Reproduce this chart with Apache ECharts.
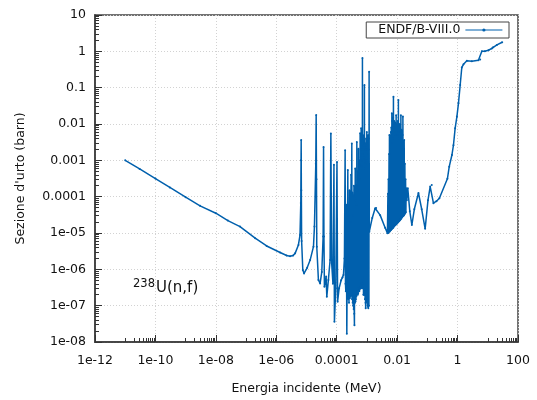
<!DOCTYPE html>
<html>
<head>
<meta charset="utf-8">
<script src="https://cdn.jsdelivr.net/npm/echarts@6/dist/echarts.min.js"></script>
<style>
html,body{margin:0;padding:0;background:#fff;}
#chart{width:537px;height:400px;}
</style>
</head>
<body>
<div id="chart"></div>
<script>
// 238U(n,f), ENDF/B-VIII.0 evaluation: energy in MeV, cross section in barn.

// thermal 1/v branch and the first isolated resonances
const lowEnergy = [
  1.0e-11, 3.0e-11, 1.0e-10, 3.0e-10, 1.0e-9, 3.0e-9, 1.0e-8, 2.5e-8, 6.3e-8, 2.0e-7,
  4.8e-7, 1.34e-6, 2.2e-6, 2.86e-6, 3.6e-6, 4.2e-6, 5.4e-6, 6.1e-6, 6.47e-6, 6.6e-6,
  6.67e-6, 6.75e-6, 6.9e-6, 7.55e-6, 8.3e-6, 1.05e-5, 1.32e-5, 1.7e-5, 1.83e-5, 2.03e-5,
  2.09e-5, 2.14e-5, 2.19e-5, 2.48e-5, 2.82e-5, 3.21e-5, 3.55e-5, 3.67e-5, 3.78e-5, 3.92e-5,
  4.46e-5, 4.7e-5, 5.3e-5, 6.04e-5, 6.4e-5, 6.8e-5, 7.5e-5, 8.1e-5, 8.4e-5, 9.3e-5,
  1.02e-4
];
const lowSigma = [
  1.0e-3, 5.8e-4, 3.15e-4, 1.8e-4, 9.7e-5, 5.6e-5, 3.5e-5, 2.2e-5, 1.5e-5, 7.2e-6,
  4.4e-6, 2.9e-6, 2.4e-6, 2.3e-6, 2.4e-6, 2.75e-6, 4.7e-6, 8.8e-6, 6.7e-5, 1.0e-3,
  3.6e-3, 1.5e-4, 6.0e-6, 9.6e-7, 7.7e-7, 1.1e-6, 1.8e-6, 4.2e-6, 1.5e-5, 8.0e-4,
  1.77e-2, 3.0e-4, 4.2e-6, 5.1e-7, 4.1e-7, 8.5e-7, 8.0e-6, 2.33e-3, 8.0e-6, 3.3e-7,
  6.3e-7, 1.77e-7, 5.1e-7, 1.8e-6, 5.5e-3, 1.5e-6, 4.0e-7, 7.5e-4, 3.6e-8, 3.0e-7,
  9.0e-4
];

// densely packed resolved resonances, 0.1 - 1.2 keV
const resolvedEnergy = [
  1.07e-4, 1.2e-4, 1.4e-4, 1.55e-4, 1.67e-4, 1.8e-4, 1.9e-4, 1.95e-4, 2.0e-4, 2.08e-4,
  2.16e-4, 2.33e-4, 2.4e-4, 2.5e-4, 2.55e-4, 2.65e-4, 2.72e-4, 2.85e-4, 2.9e-4, 2.98e-4,
  3.05e-4, 3.16e-4, 3.22e-4, 3.3e-4, 3.38e-4, 3.45e-4, 3.5e-4, 3.57e-4, 3.64e-4, 3.72e-4,
  3.8e-4, 3.86e-4, 3.95e-4, 4.02e-4, 4.1e-4, 4.18e-4, 4.25e-4, 4.3e-4, 4.4e-4, 4.46e-4,
  4.52e-4, 4.57e-4, 4.63e-4, 4.69e-4, 4.75e-4, 4.82e-4, 4.9e-4, 4.97e-4, 5.05e-4, 5.13e-4,
  5.24e-4, 5.3e-4, 5.38e-4, 5.45e-4, 5.52e-4, 5.6e-4, 5.68e-4, 5.75e-4, 5.85e-4, 5.9e-4,
  5.95e-4, 6.02e-4, 6.1e-4, 6.18e-4, 6.25e-4, 6.3e-4, 6.36e-4, 6.4e-4, 6.43e-4, 6.5e-4,
  6.58e-4, 6.63e-4, 6.7e-4, 6.77e-4, 6.85e-4, 6.9e-4, 6.95e-4, 7.02e-4, 7.1e-4, 7.17e-4,
  7.23e-4, 7.28e-4, 7.35e-4, 7.42e-4, 7.5e-4, 7.55e-4, 7.6e-4, 7.68e-4, 7.75e-4, 7.82e-4,
  7.9e-4, 7.97e-4, 8.05e-4, 8.15e-4, 8.26e-4, 8.34e-4, 8.45e-4, 8.52e-4, 8.6e-4, 8.68e-4,
  8.75e-4, 8.82e-4, 8.9e-4, 9.0e-4, 9.1e-4, 9.2e-4, 9.3e-4, 9.4e-4, 9.5e-4, 9.6e-4,
  9.7e-4, 9.8e-4, 9.85e-4, 9.9e-4, 1.0e-3, 1.02e-3, 1.03e-3, 1.04e-3, 1.05e-3, 1.07e-3,
  1.08e-3, 1.09e-3, 1.1e-3, 1.11e-3, 1.13e-3, 1.14e-3, 1.15e-3, 1.165e-3, 1.18e-3
];
const resolvedSigma = [
  1.28e-7, 3.0e-7, 5.0e-7, 6.0e-7, 7.0e-7, 2.0e-6, 1.9e-3, 4.0e-7, 2.5e-7, 6.0e-5,
  1.7e-8, 5.4e-4, 1.5e-7, 3.0e-5, 1.2e-7, 1.5e-4, 1.6e-7, 2.0e-5, 1.8e-7, 4.0e-4,
  2.0e-7, 2.9e-3, 1.5e-7, 1.3e-4, 1.2e-7, 3.0e-5, 1.0e-7, 1.1e-4, 8.0e-8, 2.0e-4,
  6.0e-8, 2.9e-8, 1.5e-4, 1.2e-7, 6.0e-4, 1.3e-7, 8.0e-5, 1.5e-7, 2.0e-4, 1.8e-7,
  6.0e-5, 2.0e-7, 3.2e-3, 2.5e-7, 1.5e-4, 2.5e-7, 5.0e-4, 2.0e-7, 3.0e-4, 2.2e-7,
  2.1e-3, 3.0e-7, 4.0e-4, 3.0e-7, 1.0e-3, 2.5e-7, 8.0e-4, 2.8e-7, 3.0e-4, 3.0e-7,
  5.6e-3, 3.0e-7, 6.0e-4, 3.2e-7, 1.2e-3, 3.5e-7, 2.0e-3, 3.5e-7, 7.6e-3, 4.0e-7,
  7.0e-4, 4.0e-7, 2.0e-3, 3.0e-7, 1.0e-3, 4.0e-7, 4.0e-3, 5.0e-7, 0.66, 6.0e-7,
  1.5e-3, 4.0e-7, 5.0e-3, 3.0e-7, 1.0e-3, 3.0e-7, 2.5e-3, 2.0e-7, 6.0e-4, 2.0e-7,
  1.5e-3, 2.5e-7, 2.0e-3, 2.5e-7, 0.119, 2.0e-7, 1.2e-3, 2.0e-7, 3.0e-3, 1.5e-7,
  8.0e-4, 1.5e-7, 1.0e-3, 1.2e-7, 8.5e-8, 2.0e-3, 1.5e-7, 4.0e-3, 1.5e-7, 1.0e-3,
  1.4e-7, 2.5e-3, 1.3e-7, 6.0e-3, 1.3e-7, 1.5e-3, 1.2e-7, 2.0e-3, 1.0e-7, 3.0e-3,
  1.0e-7, 5.0e-3, 9.0e-8, 8.5e-8, 2.0e-3, 1.0e-7, 4.0e-3, 1.0e-7, 0.275
];

// smooth stretch and the second resonance cluster, 1.2 - 20 keV
const clusterEnergy = [
  1.2e-3, 1.5e-3, 1.87e-3, 2.02e-3, 2.74e-3, 4.0e-3, 4.77e-3, 4.95e-3, 5.05e-3, 5.15e-3,
  5.25e-3, 5.4e-3, 5.48e-3, 5.56e-3, 5.68e-3, 5.8e-3, 5.9e-3, 6.0e-3, 6.1e-3, 6.2e-3,
  6.3e-3, 6.4e-3, 6.5e-3, 6.58e-3, 6.63e-3, 6.68e-3, 6.8e-3, 6.9e-3, 7.0e-3, 7.1e-3,
  7.2e-3, 7.35e-3, 7.45e-3, 7.54e-3, 7.65e-3, 7.8e-3, 7.9e-3, 8.0e-3, 8.15e-3, 8.3e-3,
  8.4e-3, 8.5e-3, 8.65e-3, 8.8e-3, 8.95e-3, 9.1e-3, 9.18e-3, 9.26e-3, 9.4e-3, 9.6e-3,
  9.75e-3, 9.9e-3, 0.0101, 0.0103, 0.0104, 0.0105, 0.0107, 0.0108, 0.0109, 0.011,
  0.0112, 0.0114, 0.0115, 0.0116, 0.0118, 0.012, 0.0121, 0.0122, 0.0124, 0.0126,
  0.0127, 0.0128, 0.013, 0.0133, 0.0135, 0.0137, 0.0138, 0.014, 0.0142, 0.0144,
  0.0145, 0.0146, 0.0149, 0.0152, 0.0153, 0.0155, 0.0158, 0.016, 0.0162, 0.0163,
  0.0166, 0.0168, 0.0169, 0.0171, 0.0176, 0.018, 0.0185, 0.019, 0.0195, 0.0199
];
const clusterSigma = [
  1.09e-5, 2.6e-5, 4.8e-5, 4.9e-5, 3.1e-5, 1.4e-5, 9.8e-6, 1.2e-4, 1.0e-5, 3.0e-4,
  1.05e-5, 1.5e-3, 1.1e-5, 5.0e-3, 1.1e-5, 2.0e-3, 1.15e-5, 1.2e-3, 1.2e-5, 6.0e-3,
  1.2e-5, 8.0e-3, 1.3e-5, 3.0e-3, 1.3e-5, 0.0197, 1.3e-5, 0.012, 1.35e-5, 4.0e-3,
  1.4e-5, 0.015, 1.4e-5, 0.0565, 1.5e-5, 0.01, 1.5e-5, 0.012, 1.6e-5, 8.0e-3,
  1.6e-5, 6.0e-3, 1.7e-5, 0.011, 1.7e-5, 5.0e-3, 1.75e-5, 0.0175, 1.8e-5, 0.01,
  1.8e-5, 8.0e-3, 1.9e-5, 5.0e-3, 1.9e-5, 0.012, 2.0e-5, 6.0e-3, 2.0e-5, 0.0458,
  2.1e-5, 9.0e-3, 2.1e-5, 6.0e-3, 2.2e-5, 4.0e-3, 2.2e-5, 0.01, 2.3e-5, 5.0e-3,
  2.3e-5, 4.0e-3, 2.4e-5, 0.0175, 2.5e-5, 6.0e-3, 2.5e-5, 7.0e-3, 2.7e-5, 2.0e-3,
  2.7e-5, 3.0e-3, 2.8e-5, 5.0e-3, 2.9e-5, 0.016, 3.0e-5, 1.5e-3, 3.0e-5, 2.0e-3,
  3.1e-5, 1.2e-3, 3.2e-5, 3.6e-3, 3.3e-5, 8.0e-4, 3.5e-5, 3.0e-4, 3.7e-5, 1.7e-4
];

// unresolved range and the fission threshold up to 30 MeV
const fastEnergy = [
  0.0209, 0.0225, 0.0262, 0.0307, 0.037, 0.0507, 0.065, 0.0845, 0.105, 0.124,
  0.14, 0.159, 0.2, 0.25, 0.46, 0.53, 0.65, 0.73, 0.83, 0.95,
  1.07, 1.22, 1.38, 1.57, 2.03, 2.96, 4.9, 5.6, 6.36, 8.0,
  10.5, 13.6, 15.0, 20.0, 30.0
];
const fastSigma = [
  8.0e-5, 1.7e-4, 4.0e-5, 1.66e-5, 4.5e-5, 1.26e-4, 4.5e-5, 1.3e-5, 8.0e-5, 1.9e-4,
  2.1e-4, 6.6e-5, 7.5e-5, 9.0e-5, 3.1e-4, 6.7e-4, 1.4e-3, 2.6e-3, 7.6e-3, 0.016,
  0.037, 0.118, 0.36, 0.44, 0.55, 0.53, 0.57, 0.6, 1.0, 1.0,
  1.07, 1.2, 1.3, 1.5, 1.78
];

const seriesName = 'ENDF/B-VIII.0';
const xTickExponents = [-12, -10, -8, -6, -4, -2, 0, 2];
const xTickLabels = ['1e-12', '1e-10', '1e-08', '1e-06', '0.0001', '0.01', '1', '100'];
const yTickExponents = [-8, -7, -6, -5, -4, -3, -2, -1, 0, 1];
const yTickLabels = ['1e-08', '1e-07', '1e-06', '1e-05', '0.0001', '0.001', '0.01', '0.1', '1', '10'];

const FONT = 'DejaVu Sans';
const LINE = '#0060ad';
const FRAME = '#444';

const energyMeV = lowEnergy.concat(resolvedEnergy, clusterEnergy, fastEnergy);
const sigmaBarn = lowSigma.concat(resolvedSigma, clusterSigma, fastSigma);
const points = energyMeV.map((e, i) => [e, sigmaBarn[i]]);

// minor tick positions: x majors every two decades -> minors at k*10^(e+1); y majors every decade -> 2..9
const xMinor = [];
for (let e = -12; e < 2; e += 2) for (let k = 1; k <= 9; k++) xMinor.push(k * Math.pow(10, e + 1));
const yMinor = [];
for (let e = -8; e < 1; e++) for (let k = 2; k <= 9; k++) yMinor.push(k * Math.pow(10, e));

function labelFor(exps, labels) {
  return v => {
    const i = exps.indexOf(Math.round(Math.log10(v)));
    return i < 0 ? '' : labels[i];
  };
}

const tickStyle = { color: '#333', width: 1 };
const frameLine = { show: true, onZero: false, lineStyle: { color: FRAME, width: 1.5 } };
const gridLine = { show: true, lineStyle: { color: '#d2d2d2', width: 1, type: [1, 2] } };
const labelText = { fontFamily: FONT, fontSize: 12.5, color: '#111' };

const chart = echarts.init(document.getElementById('chart'), null, { renderer: 'canvas' });
chart.setOption({
  animation: false,
  backgroundColor: '#fff',
  textStyle: { fontFamily: FONT },
  grid: {
    left: 95, right: 19, top: 15, bottom: 58,
    outerBoundsMode: 'none',
    show: true, borderColor: FRAME, borderWidth: 1.5, backgroundColor: 'transparent'
  },
  legend: {
    right: 28, top: 22, align: 'right',
    padding: [1, 6, 1, 12],
    borderColor: FRAME, borderWidth: 1, borderRadius: 0,
    backgroundColor: '#fff',
    itemWidth: 37, itemHeight: 4, itemGap: 0,
    lineStyle: { width: 1.2 },
    textStyle: Object.assign({ lineHeight: 14 }, labelText),
    data: [seriesName]
  },
  xAxis: [{
    type: 'log', logBase: 10, min: 1e-12, max: 100, interval: 2,
    name: 'Energia incidente (MeV)', nameLocation: 'middle', nameGap: 40,
    nameTextStyle: labelText,
    axisLine: frameLine,
    axisTick: { show: true, inside: true, length: 7, lineStyle: tickStyle },
    axisLabel: Object.assign({ margin: 12, formatter: labelFor(xTickExponents, xTickLabels) }, labelText),
    splitLine: gridLine
  }, {
    type: 'log', logBase: 10, min: 1e-12, max: 100, position: 'bottom',
    axisLine: frameLine,
    axisTick: { show: true, inside: true, length: 4, customValues: xMinor, lineStyle: tickStyle },
    axisLabel: { show: false },
    splitLine: { show: false }
  }],
  yAxis: [{
    type: 'log', logBase: 10, min: 1e-8, max: 10, interval: 1,
    name: "Sezione d'urto (barn)", nameLocation: 'middle', nameGap: 68, nameRotate: 90,
    nameTextStyle: labelText,
    axisLine: frameLine,
    axisTick: { show: true, inside: true, length: 7, lineStyle: tickStyle },
    axisLabel: Object.assign({ margin: 9, formatter: labelFor(yTickExponents, yTickLabels) }, labelText),
    splitLine: gridLine
  }, {
    type: 'log', logBase: 10, min: 1e-8, max: 10, position: 'left',
    axisLine: frameLine,
    axisTick: { show: true, inside: true, length: 4, customValues: yMinor, lineStyle: tickStyle },
    axisLabel: { show: false },
    splitLine: { show: false }
  }],
  series: [{
    name: seriesName,
    type: 'line',
    xAxisIndex: 0, yAxisIndex: 0,
    data: points,
    symbol: 'circle', symbolSize: 2, showSymbol: true,
    color: LINE,
    itemStyle: { color: LINE },
    lineStyle: { color: LINE, width: 1.5 },
    z: 3
  }],
  graphic: [
    { type: 'text', left: 133, top: 278, z: 10,
      style: { text: '238', fontFamily: FONT, fontSize: 11.5, fill: '#111' } },
    { type: 'text', left: 156, top: 281, z: 10,
      style: { text: 'U(n,f)', fontFamily: FONT, fontSize: 15, fill: '#111' } }
  ]
});
</script>
</body>
</html>
